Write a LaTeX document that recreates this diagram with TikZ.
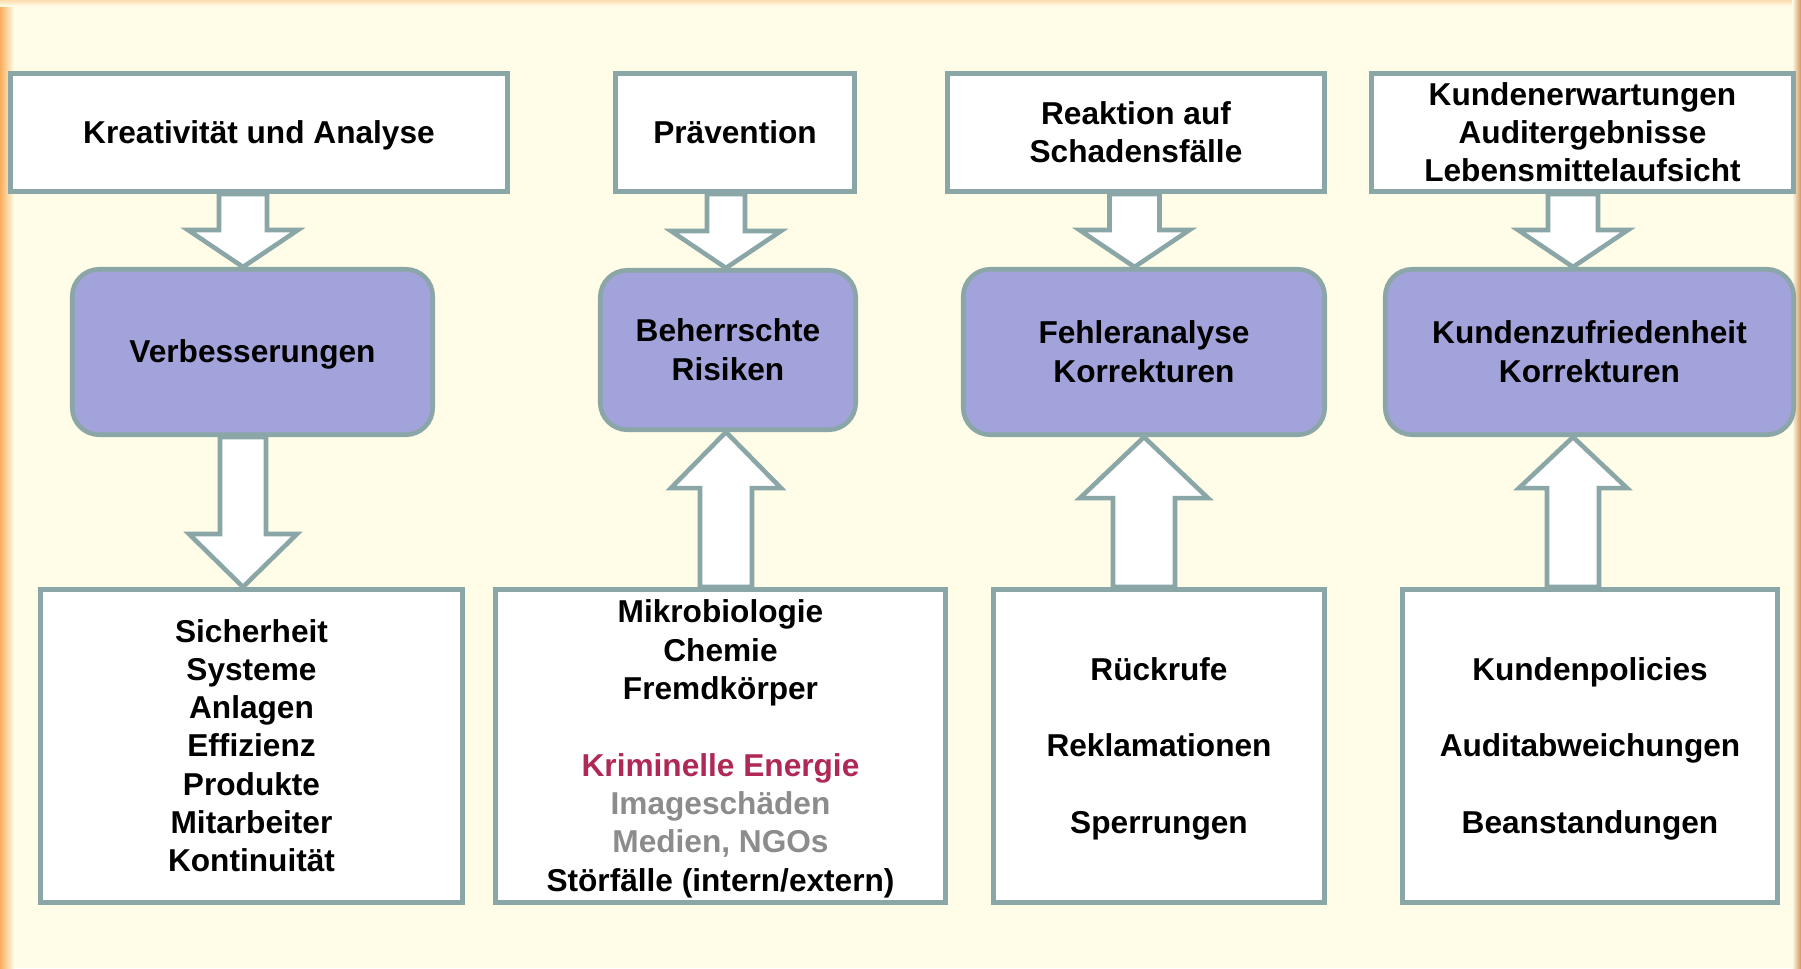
\documentclass[tikz,border=0pt]{standalone}
\usepackage{fontspec}
\setmainfont{Liberation Sans}
\usetikzlibrary{calc, positioning}
\definecolor{FRAME}{rgb}{0.54,0.65,0.65}
\definecolor{LILAC}{rgb}{0.64,0.64,0.86}
\definecolor{CREAM}{rgb}{1.0,0.99,0.91}
\definecolor{ORANGE}{rgb}{0.97,0.68,0.36}
\definecolor{RUST}{rgb}{0.82,0.58,0.36}
\definecolor{CRIMSON}{rgb}{0.69,0.16,0.33}
\definecolor{GREYTXT}{rgb}{0.55,0.55,0.55}

% fat block arrow: from, to, shaft half width, head half width, head length
\newcommand{\blockarrow}[5]{%
  \draw[fatarrow] let \p1=#1, \p2=#2, \p3=($#2!#5!#1$) in
    (\x1-#3,\y1) -- (\x1-#3,\y3) -- (\x1-#4,\y3) -- (\x2,\y2)
    -- (\x1+#4,\y3) -- (\x1+#3,\y3) -- (\x1+#3,\y1) -- cycle;}
% line strut with the height and depth of the slide font
\newcommand{\linestrut}{\rule[-0.212em]{0pt}{1.117em}}
\newcommand{\lines}[1]{\linestrut#1\linestrut}

\begin{document}
\begin{tikzpicture}[x=0.1mm, y=-0.1mm,
  every node/.style={font=\fontsize{9}{10.9}\selectfont\bfseries, align=center,
    draw=FRAME, line width=1.3pt, inner sep=0pt},
  topbox/.style={rectangle, fill=white, minimum height=11.85mm},
  midbox/.style={rectangle, rounded corners=2.7mm, fill=LILAC},
  lowbox/.style={rectangle, fill=white, minimum height=31.35mm},
  fatarrow/.style={draw=FRAME, fill=white, line width=1.3pt}]

% slide background
\useasboundingbox (0,0) rectangle (1801,968);
\fill[CREAM] (0,0) rectangle (1801,968);
\shade[left color=ORANGE, right color=CREAM] (0,0) rectangle (14,968);
\shade[top color=ORANGE!40!CREAM, bottom color=CREAM] (0,0) rectangle (1801,6);
\shade[left color=CREAM, right color=RUST] (1792,0) rectangle (1801,968);

% sources
\node[topbox, minimum width=49.75mm] (ka) at (259,132.5) {\lines{Kreativität und Analyse}};
\node[topbox, minimum width=23.95mm] (pv) at (735,132.5) {\lines{Prävention}};
\node[topbox, minimum width=37.75mm] (rs) at (1136,132.5) {\lines{Reaktion auf\\Schadensfälle}};
\node[topbox, minimum width=42.25mm] (ke) at (1582.5,132.5) {\lines{Kundenerwartungen\\Auditergebnisse\\Lebensmittelaufsicht}};

% goals
\node[midbox, minimum width=36.05mm, minimum height=16.55mm] (vb) at (252.5,352) {\lines{Verbesserungen}};
\node[midbox, minimum width=25.55mm, minimum height=15.95mm] (br) at (728,350) {\lines{Beherrschte\\Risiken}};
\node[midbox, minimum width=36.15mm, minimum height=16.55mm] (fk) at (1144,352) {\lines{Fehleranalyse\\Korrekturen}};
\node[midbox, minimum width=40.85mm, minimum height=16.55mm] (kk) at (1589.5,352) {\lines{Kundenzufriedenheit\\Korrekturen}};

% topics
\node[lowbox, minimum width=42.25mm] (si) at (251.5,746) {\lines{Sicherheit\\Systeme\\Anlagen\\Effizienz\\Produkte\\Mitarbeiter\\Kontinuität}};
\node[lowbox, minimum width=45.05mm] (mb) at (720.5,746) {\lines{Mikrobiologie\\Chemie\\Fremdkörper\\[\baselineskip]\textcolor{CRIMSON}{Kriminelle Energie}\\\textcolor{GREYTXT}{Imageschäden}\\\textcolor{GREYTXT}{Medien, NGOs}\\Störfälle (intern/extern)}};
\node[lowbox, minimum width=33.15mm] (rr) at (1159,746) {\lines{Rückrufe\\[\baselineskip]Reklamationen\\[\baselineskip]Sperrungen}};
\node[lowbox, minimum width=37.55mm] (kp) at (1590,746) {\lines{Kundenpolicies\\[\baselineskip]Auditabweichungen\\[\baselineskip]Beanstandungen}};

% arrow axes
\coordinate (ax1) at (243,0);
\coordinate (ax2) at (726,0);
\coordinate (ax3) at (1134.5,0);
\coordinate (ax3b) at (1144,0);
\coordinate (ax4) at (1573,0);

\blockarrow{(ka.south -| ax1)}{(vb.north -| ax1)}{2.4mm}{5.5mm}{3.7mm}
\blockarrow{(vb.south -| ax1)}{(si.north -| ax1)}{2.3mm}{5.4mm}{5.3mm}
\blockarrow{(pv.south -| ax2)}{(br.north -| ax2)}{1.9mm}{5.5mm}{3.7mm}
\blockarrow{(mb.north -| ax2)}{(br.south -| ax2)}{2.6mm}{5.5mm}{5.6mm}
\blockarrow{(rs.south -| ax3)}{(fk.north -| ax3)}{2.5mm}{5.5mm}{3.7mm}
\blockarrow{(rr.north -| ax3b)}{(fk.south -| ax3b)}{3.1mm}{6.4mm}{6.1mm}
\blockarrow{(ke.south -| ax4)}{(kk.north -| ax4)}{2.5mm}{5.5mm}{3.7mm}
\blockarrow{(kp.north -| ax4)}{(kk.south -| ax4)}{2.6mm}{5.4mm}{5.1mm}
\end{tikzpicture}
\end{document}
